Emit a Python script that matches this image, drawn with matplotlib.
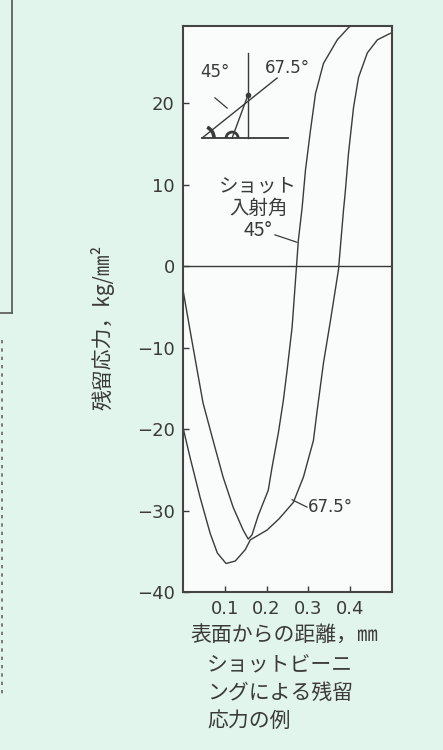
import matplotlib
matplotlib.use('Agg')
import matplotlib.pyplot as plt
from matplotlib.lines import Line2D
from matplotlib.patches import Arc

plt.rcParams['font.family'] = ['DejaVu Sans', 'Noto Sans CJK JP']
JP = ['Noto Sans CJK JP', 'DejaVu Sans']

# depth from surface (mm) vs residual stress (kg/mm2)
x_45 = [0.0, 0.017, 0.034, 0.048, 0.072, 0.096, 0.120, 0.144, 0.156, 0.165,
        0.180, 0.204, 0.213, 0.228, 0.240, 0.249, 0.261, 0.271, 0.276, 0.285,
        0.293, 0.305, 0.317, 0.336, 0.369, 0.396, 0.405]
y_45 = [-2.9, -7.9, -12.8, -16.8, -21.4, -25.9, -29.6, -32.4, -33.5, -33.0,
        -30.6, -27.5, -24.7, -20.5, -16.5, -12.8, -7.5, -0.4, 3.2, 7.2,
        11.8, 16.7, 21.2, 24.9, 27.8, 29.3, 29.7]

x_675 = [0.0, 0.017, 0.041, 0.065, 0.082, 0.103, 0.125, 0.149, 0.161, 0.201,
         0.230, 0.264, 0.288, 0.312, 0.321, 0.336, 0.353, 0.372, 0.384, 0.388,
         0.396, 0.408, 0.420, 0.441, 0.465, 0.496]
y_675 = [-19.8, -23.5, -28.4, -32.8, -35.2, -36.5, -36.2, -34.8, -33.6, -32.4,
         -31.0, -29.0, -25.9, -21.4, -17.7, -11.9, -6.6, -0.4, 6.9, 9.0,
         13.9, 19.5, 23.2, 26.2, 27.8, 28.6]

xticks = [0.1, 0.2, 0.3, 0.4]
xticklabels = ['0.1', '0.2', '0.3', '0.4']
yticks = [-40, -30, -20, -10, 0, 10, 20]

bg = '#e2f5ec'
ink = '#3a3a3a'

fig = plt.figure(figsize=(4.43, 7.5), dpi=100, facecolor=bg)
ax = fig.add_axes([183/443, 1 - 592/750, 209/443, 566/750])
ax.set_facecolor('#f9fcfa')

ax.plot(x_45, y_45, color=ink, lw=1.0)
ax.plot(x_675, y_675, color=ink, lw=1.0)
ax.axhline(0, color=ink, lw=1.0)

ax.set_xlim(0, 0.5)
ax.set_ylim(-40, 29.5)
ax.set_xticks(xticks)
ax.set_xticklabels(xticklabels)
ax.set_yticks(yticks)
ax.tick_params(direction='in', length=4, width=1.0, colors=ink, labelsize=13, pad=6)
for s in ax.spines.values():
    s.set_color('#444444')
    s.set_linewidth(1.5)

# little sketch of the shot angles
T = ax.transAxes
ax.plot([0.091, 0.502], [0.802, 0.802], color=ink, lw=1.3, transform=T)
ax.plot([0.311, 0.311], [0.802, 0.952], color=ink, lw=1.0, transform=T)
ax.plot([0.091, 0.450], [0.802, 0.908], color=ink, lw=1.0, transform=T)
ax.plot([0.235, 0.311], [0.802, 0.878], color=ink, lw=1.0, transform=T)
ax.plot([0.311], [0.878], 'o', color=ink, ms=3, transform=T)
ax.add_patch(Arc((0.091, 0.802), 2*12/209, 2*12/566, theta1=0, theta2=38,
                 color=ink, lw=2.6, transform=T))
ax.add_patch(Arc((0.235, 0.802), 2*6/209, 2*6/566, theta1=0, theta2=180,
                 color=ink, lw=2.0, transform=T))
ax.text(0.153, 0.919, '45°', fontsize=12, color=ink, ha='center', va='center', transform=T)
ax.plot([0.153, 0.211], [0.873, 0.855], color=ink, lw=0.9, transform=T)
ax.text(0.502, 0.926, '67.5°', fontsize=12, color=ink, ha='center', va='center', transform=T)

ax.text(0.36, 0.678, 'ショット\n入射角\n45°', fontsize=14, color=ink, ha='center', va='center',
        linespacing=1.1, family=JP, transform=T)
ax.plot([0.440, 0.545], [0.631, 0.618], color=ink, lw=0.9, transform=T)

ax.plot([0.522, 0.593], [0.163, 0.150], color=ink, lw=0.9, transform=T)
ax.text(0.598, 0.150, '67.5°', fontsize=12, color=ink, ha='left', va='center', transform=T)

fig.text(284/443, 1 - 635/750, '表面からの距離，㎜', fontsize=15, color=ink,
         ha='center', va='center', family=JP)
fig.text(103/443, 1 - 327/750, '残留応力，kg/㎜²', fontsize=15, color=ink,
         ha='center', va='center', rotation=90, family=JP)
fig.text(207/443, 1 - 693/750, 'ショットビーニ\nングによる残留\n応力の例', fontsize=15,
         color=ink, ha='left', va='center', linespacing=1.35, family=JP)

# edge of the neighbouring box and dotted rule from the page
fig.add_artist(Line2D([12/443, 12/443], [1.0, 1 - 313/750], color='#555555', lw=1.2))
fig.add_artist(Line2D([0, 12/443], [1 - 313/750, 1 - 313/750], color='#555555', lw=1.2))
fig.add_artist(Line2D([2/443, 2/443], [1 - 340/750, 1 - 697/750], color='#666666',
                      lw=1.2, ls=(0, (2, 3))))

fig.savefig('out.png', dpi=100, facecolor=bg)
